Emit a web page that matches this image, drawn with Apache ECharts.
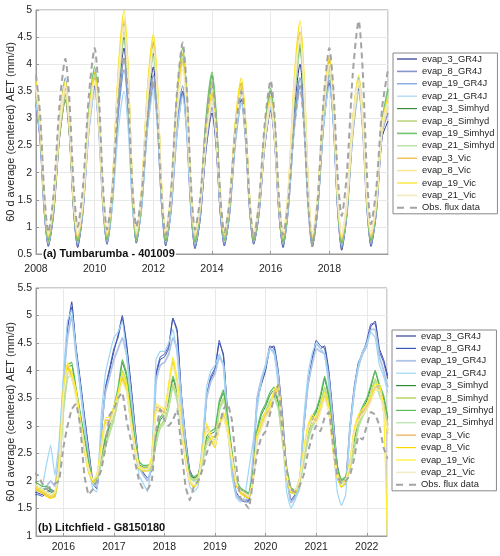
<!DOCTYPE html>
<html><head><meta charset="utf-8">
<script src="https://cdn.jsdelivr.net/npm/echarts@6/dist/echarts.min.js"></script>
<style>html,body{margin:0;padding:0;background:#fff}#c{width:500px;height:556px}</style>
</head><body><div id="c"></div><script>
const seriesNames = ['evap_3_GR4J','evap_8_GR4J','evap_19_GR4J','evap_21_GR4J','evap_3_Simhyd','evap_8_Simhyd','evap_19_Simhyd','evap_21_Simhyd','evap_3_Vic','evap_8_Vic','evap_19_Vic','evap_21_Vic','Obs. flux data'];
const titleTop = '(a) Tumbarumba - 401009';
const titleBottom = '(b) Litchfield - G8150180';
const yName = '60 d average (centered) AET (mm/d)';

// Panel (a): sample times = each year + these offsets (peak ~Jan, trough ~Jun), plus final 2020.0
const topYears = [2008,2009,2010,2011,2012,2013,2014,2015,2016,2017,2018,2019];
const topOffsets = [0,0.14,0.28,0.42,0.6,0.8];
const topEnd = 2020;

const aG3 = [3.25,2.60,1.29,0.64,1.24,2.62, 3.35,2.67,1.30,0.62,1.28,2.80, 3.6,2.87,1.41,0.68,1.48,3.32, 4.3,3.40,1.60,0.70,1.42,3.07, 3.95,3.13,1.48,0.65,1.28,2.73, 3.5,2.78,1.33,0.60,1.15,2.43, 3.1,2.49,1.26,0.65,1.24,2.62, 3.35,2.68,1.35,0.68,1.22,2.48, 3.15,2.52,1.25,0.62,1.36,3.09, 4.0,3.16,1.47,0.63,1.29,2.83, 3.65,2.88,1.34,0.57,1.23,2.75, 3.55,2.82,1.37,0.64,1.25,2.65, 2.95];
const aG8 = [3.3,2.64,1.32,0.66,1.27,2.70, 3.45,2.75,1.36,0.66,1.30,2.77, 3.55,2.84,1.41,0.70,1.45,3.18, 4.1,3.26,1.57,0.72,1.40,2.97, 3.8,3.02,1.46,0.68,1.29,2.70, 3.45,2.75,1.34,0.63,1.20,2.51, 3.2,2.57,1.31,0.68,1.26,2.59, 3.3,2.65,1.35,0.70,1.25,2.53, 3.2,2.57,1.30,0.66,1.34,2.92, 3.75,2.98,1.43,0.66,1.33,2.88, 3.7,2.93,1.39,0.62,1.25,2.72, 3.5,2.79,1.38,0.67,1.29,2.74, 3.1];
const aG19 = [3.4,2.72,1.36,0.68,1.36,2.92, 3.75,2.98,1.44,0.67,1.35,2.92, 3.75,2.99,1.48,0.72,1.42,3.04, 3.9,3.11,1.52,0.72,1.35,2.82, 3.6,2.88,1.43,0.70,1.34,2.82, 3.6,2.86,1.39,0.65,1.26,2.66, 3.4,2.73,1.38,0.70,1.31,2.71, 3.45,2.77,1.40,0.72,1.29,2.60, 3.3,2.65,1.34,0.68,1.32,2.81, 3.6,2.87,1.41,0.68,1.37,2.96, 3.8,3.01,1.43,0.64,1.29,2.80, 3.6,2.88,1.43,0.70,1.34,2.82, 3.3];
const aG21 = [3.3,2.65,1.35,0.70,1.34,2.82, 3.6,2.88,1.43,0.70,1.32,2.74, 3.5,2.81,1.43,0.74,1.35,2.75, 3.5,2.81,1.44,0.75,1.36,2.76, 3.5,2.81,1.42,0.72,1.31,2.68, 3.4,2.72,1.36,0.68,1.26,2.59, 3.3,2.66,1.37,0.72,1.29,2.60, 3.3,2.66,1.38,0.74,1.28,2.54, 3.2,2.58,1.33,0.70,1.32,2.74, 3.5,2.80,1.40,0.70,1.34,2.82, 3.6,2.87,1.40,0.66,1.28,2.73, 3.5,2.81,1.42,0.72,1.33,2.75, 3.2];
const aS3 = [3.5,2.81,1.44,0.75,1.34,2.72, 3.45,2.77,1.42,0.74,1.42,3.01, 3.85,3.08,1.54,0.77,1.59,3.49, 4.5,3.57,1.70,0.76,1.52,3.27, 4.2,3.34,1.61,0.74,1.50,3.27, 4.2,3.33,1.59,0.72,1.40,2.97, 3.8,3.04,1.52,0.76,1.38,2.83, 3.6,2.89,1.46,0.75,1.36,2.76, 3.5,2.81,1.42,0.72,1.51,3.33, 4.3,3.41,1.62,0.73,1.45,3.12, 4.0,3.18,1.53,0.70,1.36,2.89, 3.7,2.96,1.48,0.74,1.39,2.90, 3.5];
const aS8 = [3.45,2.77,1.40,0.72,1.30,2.64, 3.35,2.69,1.38,0.72,1.39,2.93, 3.75,3.00,1.50,0.75,1.60,3.56, 4.6,3.64,1.71,0.74,1.52,3.34, 4.3,3.41,1.62,0.72,1.46,3.19, 4.1,3.25,1.55,0.70,1.36,2.89, 3.7,2.96,1.48,0.74,1.36,2.79, 3.55,2.85,1.44,0.73,1.32,2.68, 3.4,2.73,1.38,0.70,1.51,3.40, 4.4,3.48,1.63,0.71,1.41,3.04, 3.9,3.10,1.49,0.68,1.32,2.81, 3.6,2.88,1.44,0.72,1.35,2.82, 3.4];
const aS19 = [3.6,2.90,1.49,0.78,1.39,2.80, 3.55,2.86,1.47,0.77,1.47,3.09, 3.95,3.16,1.59,0.80,1.67,3.68, 4.75,3.76,1.78,0.79,1.58,3.43, 4.4,3.49,1.68,0.77,1.55,3.35, 4.3,3.41,1.64,0.75,1.43,3.01, 3.85,3.08,1.55,0.78,1.41,2.88, 3.65,2.93,1.50,0.78,1.39,2.80, 3.55,2.85,1.45,0.75,1.54,3.38, 4.35,3.45,1.66,0.76,1.48,3.16, 4.05,3.22,1.56,0.73,1.39,2.93, 3.75,3.01,1.52,0.77,1.43,2.95, 3.55];
const aS21 = [3.5,2.83,1.48,0.80,1.38,2.73, 3.45,2.79,1.46,0.80,1.46,2.99, 3.8,3.06,1.57,0.82,1.62,3.47, 4.45,3.54,1.73,0.82,1.55,3.25, 4.15,3.31,1.64,0.80,1.50,3.14, 4.0,3.20,1.59,0.78,1.40,2.84, 3.6,2.90,1.50,0.80,1.39,2.77, 3.5,2.83,1.48,0.80,1.37,2.70, 3.4,2.75,1.44,0.78,1.53,3.28, 4.2,3.35,1.64,0.78,1.47,3.06, 3.9,3.12,1.55,0.76,1.38,2.83, 3.6,2.90,1.50,0.80,1.42,2.84, 3.45];
const aV3 = [3.6,2.91,1.52,0.82,1.42,2.81, 3.55,2.86,1.49,0.80,1.45,2.95, 3.75,3.02,1.57,0.84,1.71,3.73, 4.8,3.81,1.84,0.85,1.63,3.44, 4.4,3.51,1.72,0.83,1.54,3.18, 4.05,3.24,1.63,0.82,1.40,2.74, 3.45,2.80,1.49,0.84,1.46,2.89, 3.65,2.95,1.54,0.83,1.37,2.63, 3.3,2.68,1.43,0.80,1.64,3.57, 4.6,3.65,1.75,0.80,1.53,3.21, 4.1,3.27,1.61,0.78,1.42,2.91, 3.7,2.98,1.54,0.82,1.43,2.85, 3.3];
const aV8 = [3.55,2.87,1.52,0.84,1.43,2.78, 3.5,2.83,1.50,0.83,1.45,2.89, 3.65,2.95,1.56,0.86,1.74,3.77, 4.85,3.86,1.87,0.87,1.67,3.52, 4.5,3.59,1.76,0.85,1.54,3.15, 4.0,3.21,1.63,0.84,1.40,2.71, 3.4,2.77,1.50,0.86,1.46,2.86, 3.6,2.91,1.54,0.85,1.38,2.60, 3.25,2.64,1.43,0.82,1.63,3.51, 4.5,3.58,1.74,0.82,1.52,3.14, 4.0,3.20,1.60,0.80,1.42,2.84, 3.6,2.91,1.53,0.84,1.43,2.78, 3.2];
const aV19 = [3.7,2.99,1.57,0.86,1.48,2.93, 3.7,2.99,1.56,0.85,1.51,3.04, 3.85,3.11,1.62,0.88,1.79,3.89, 5.0,3.98,1.93,0.90,1.70,3.56, 4.55,3.63,1.80,0.88,1.61,3.30, 4.2,3.37,1.71,0.88,1.46,2.79, 3.5,2.85,1.54,0.88,1.51,2.98, 3.75,3.03,1.59,0.87,1.43,2.72, 3.4,2.76,1.48,0.84,1.71,3.73, 4.8,3.81,1.83,0.84,1.57,3.26, 4.15,3.32,1.65,0.82,1.48,3.00, 3.8,3.06,1.60,0.86,1.48,2.93, 3.4];
const aV21 = [3.6,2.92,1.56,0.88,1.48,2.87, 3.6,2.92,1.55,0.87,1.49,2.94, 3.7,3.00,1.60,0.90,1.74,3.67, 4.7,3.75,1.85,0.90,1.65,3.38, 4.3,3.45,1.74,0.88,1.54,3.08, 3.9,3.15,1.64,0.88,1.41,2.65, 3.3,2.70,1.50,0.90,1.47,2.80, 3.5,2.85,1.54,0.88,1.41,2.65, 3.3,2.69,1.47,0.86,1.66,3.52, 4.5,3.59,1.77,0.86,1.55,3.15, 4.0,3.21,1.63,0.84,1.47,2.93, 3.7,3.00,1.59,0.88,1.48,2.87, 3.3];
const aObs = [3.8,3.08,1.63,0.90,1.60,3.24, 4.1,3.33,1.78,1.00,1.73,3.41, 4.3,3.46,1.79,0.95,1.65,3.29, 4.15,3.36,1.79,1.00,1.59,2.97, 3.7,2.99,1.56,0.85,1.63,3.44, 4.4,3.54,1.81,0.95,1.54,2.92, 3.65,2.96,1.59,0.90,1.47,2.80, 3.5,2.83,1.48,0.80,1.44,2.92, 3.7,2.99,1.56,0.85,1.46,2.86, 3.6,2.86,1.39,0.65,1.45,3.31, 4.3,3.53,1.98,1.20,1.99,3.83, 4.8,3.86,1.99,1.05,1.70,3.20, 3.9];

// Panel (b): monthly values, first of month, Jun 2015 .. Jun 2022
const botStartYear = 2015, botStartMonth = 6, botCount = 85;
const bG3 = [1.8,1.78,1.75,1.8,1.85,1.8,2.3, 3.65,4.75,5.25,4.45,3.85,3.2,2.6,2.0,1.88,2.8,3.65,4.0, 4.35,4.65,5.0,4.5,3.8,3.0,2.3,2.15,2.05,2.2,3.9,4.2, 4.25,4.4,4.95,4.75,3.6,2.8,2.2,2.05,2.1,2.5,3.5,3.85, 4.0,4.5,4.3,3.2,2.3,1.8,1.68,1.65,1.65,2.2,3.45,3.75, 4.0,4.4,4.45,4.0,3.2,2.2,1.65,1.75,1.9,2.9,3.7,4.15, 4.5,4.4,4.45,4.0,3.2,2.3,1.95,2.0,2.9,3.6,4.1,4.35, 4.5,4.8,4.9,4.4,4.2,3.9];
const bG8 = [1.75,1.75,1.72,1.78,1.82,1.78,2.4, 3.75,4.8,5.15,4.4,3.8,3.15,2.55,1.95,1.85,2.9,3.7,4.05, 4.4,4.6,4.95,4.45,3.75,2.95,2.28,2.12,2.0,2.25,3.95,4.25, 4.3,4.45,4.95,4.7,3.55,2.75,2.15,2.0,2.05,2.55,3.55,3.9, 4.05,4.55,4.25,3.15,2.25,1.75,1.65,1.62,1.62,2.3,3.5,3.8, 4.05,4.45,4.4,3.95,3.1,2.1,1.62,1.72,1.88,3.0,3.75,4.2, 4.55,4.45,4.4,3.95,3.1,2.25,1.92,1.98,3.0,3.7,4.15,4.3, 4.55,4.85,4.85,4.35,4.15,3.85];
const bG19 = [1.85,1.82,1.8,1.9,2.0,1.9,2.5, 3.7,4.6,5.0,4.3,3.7,3.05,2.45,1.95,1.9,2.9,3.6,3.9, 4.2,4.4,4.6,4.3,3.6,2.85,2.25,2.1,2.0,2.3,3.8,4.1, 4.15,4.3,4.6,4.4,3.5,2.7,2.1,2.0,2.05,2.6,3.5,3.8, 3.95,4.25,4.1,3.1,2.2,1.75,1.65,1.65,1.7,2.4,3.5,3.85, 4.1,4.4,4.35,3.9,3.05,2.1,1.6,1.7,1.85,2.95,3.7,4.1, 4.4,4.35,4.3,3.85,3.05,2.2,1.9,1.95,2.95,3.6,4.05,4.3, 4.45,4.75,4.75,4.25,4.0,3.7];
const bG21 = [1.8,1.85,1.9,2.3,2.65,2.1,2.7, 3.9,4.9,5.1,4.35,3.7,3.0,2.35,1.85,1.8,3.2,3.95,4.3, 4.6,4.7,4.9,4.3,3.55,2.7,2.1,1.95,1.8,2.4,4.2,4.35, 4.35,4.5,4.75,4.3,3.3,2.5,1.9,1.8,1.9,2.7,3.7,4.0, 4.1,4.3,4.1,3.0,2.1,1.7,1.62,1.7,2.2,2.7,3.3,3.8, 4.1,4.4,4.3,3.7,2.8,1.8,1.5,1.65,1.9,3.1,3.9,4.3, 4.5,4.4,4.3,3.7,2.7,1.8,1.55,1.75,2.9,3.6,4.1,4.35, 4.5,4.7,4.6,4.1,3.9,3.6];
const bS3 = [1.95,1.9,1.85,1.85,1.8,1.75,2.3, 3.4,4.05,4.1,3.65,3.2,2.75,2.3,2.0,2.05,2.4,2.75,3.0, 3.3,3.6,4.15,3.9,3.3,2.7,2.3,2.25,2.25,2.3,2.8,3.1, 3.2,3.45,3.85,3.6,3.0,2.5,2.1,2.05,2.1,2.4,2.75,2.85, 2.9,3.4,3.6,3.1,2.5,2.0,1.85,1.8,1.75,2.1,2.9,3.2, 3.35,3.55,3.65,3.4,2.8,2.2,1.85,1.8,2.0,2.4,2.85,3.1, 3.25,3.5,3.85,3.5,2.8,2.2,2.0,2.05,2.3,2.7,3.1,3.3, 3.45,3.7,4.0,3.7,3.5,3.1];
const bS8 = [1.9,1.85,1.8,1.8,1.75,1.72,2.2, 3.3,3.95,4.0,3.6,3.15,2.7,2.25,1.98,2.02,2.35,2.65,2.9, 3.15,3.5,4.0,3.8,3.2,2.65,2.25,2.2,2.2,2.25,2.7,3.0, 3.1,3.35,3.75,3.5,2.95,2.45,2.08,2.02,2.08,2.35,2.7,2.8, 2.8,3.3,3.5,3.05,2.45,1.98,1.82,1.78,1.72,2.05,2.8,3.1, 3.25,3.45,3.55,3.35,2.75,2.15,1.82,1.78,1.95,2.35,2.75,3.0, 3.15,3.4,3.7,3.4,2.75,2.15,1.98,2.02,2.25,2.6,3.0,3.2, 3.35,3.6,3.85,3.6,3.4,3.0];
const bS19 = [2.0,1.95,1.9,1.9,1.85,1.78,2.35, 3.5,4.1,4.15,3.7,3.25,2.8,2.35,2.02,2.08,2.45,2.8,3.05, 3.35,3.7,4.2,3.95,3.35,2.75,2.35,2.28,2.28,2.35,2.85,3.15, 3.25,3.5,3.9,3.65,3.05,2.55,2.12,2.08,2.12,2.45,2.8,2.9, 2.95,3.45,3.65,3.15,2.55,2.02,1.88,1.82,1.78,2.15,2.95,3.25, 3.4,3.6,3.7,3.45,2.85,2.25,1.88,1.82,2.02,2.45,2.9,3.15, 3.3,3.55,3.9,3.55,2.85,2.25,2.02,2.08,2.35,2.75,3.15,3.35, 3.5,3.75,4.0,3.75,3.55,3.15];
const bS21 = [1.85,1.82,1.78,1.75,1.72,1.7,2.1, 3.2,3.85,3.95,3.55,3.1,2.65,2.2,1.95,2.0,2.3,2.6,2.85, 3.1,3.45,3.9,3.75,3.15,2.6,2.2,2.18,2.18,2.2,2.65,2.95, 3.05,3.3,3.7,3.45,2.9,2.4,2.05,2.0,2.05,2.3,2.65,2.75, 2.75,3.25,3.45,3.0,2.4,1.95,1.8,1.75,1.7,2.0,2.75,3.05, 3.2,3.4,3.5,3.3,2.7,2.1,1.8,1.75,1.92,2.3,2.7,2.95, 3.1,3.35,3.65,3.35,2.7,2.1,1.95,2.0,2.2,2.55,2.95,3.15, 3.3,3.55,3.8,3.55,3.35,2.95];
const bV3 = [1.9,1.85,1.8,1.75,1.7,1.75,2.3, 3.6,4.1,3.9,3.6,3.1,2.6,2.2,2.0,2.1,2.6,3.1,3.1, 3.3,3.55,3.9,3.7,3.1,2.6,2.25,2.2,2.2,2.4,3.35,3.3, 3.25,3.7,4.2,3.8,3.0,2.4,2.0,1.9,2.0,2.5,3.0,2.8, 2.65,3.0,3.2,2.9,2.4,1.95,1.8,1.75,1.7,2.0,2.8,3.0, 3.2,3.3,3.6,3.7,2.9,2.1,1.8,1.8,2.0,2.5,2.95,3.15, 3.1,3.3,3.55,3.3,2.6,2.1,1.9,2.0,2.3,2.9,3.15,3.25, 3.35,3.5,3.7,3.7,3.3,2.9];
const bV8 = [1.88,1.82,1.78,1.72,1.68,1.72,2.25, 3.55,4.05,3.85,3.55,3.05,2.55,2.15,1.98,2.08,2.55,3.05,3.05, 3.25,3.5,3.85,3.65,3.05,2.55,2.22,2.18,2.18,2.35,3.3,3.25, 3.2,3.65,4.15,3.75,2.95,2.35,1.98,1.88,1.98,2.45,2.95,2.75, 2.6,2.95,3.15,2.85,2.35,1.92,1.78,1.72,1.68,1.98,2.75,2.95, 3.15,3.25,3.55,3.65,2.85,2.05,1.78,1.78,1.98,2.45,2.9,3.1, 3.05,3.25,3.5,3.25,2.55,2.05,1.88,1.98,2.25,2.85,3.1,3.2, 3.3,3.45,3.65,3.65,3.25,2.85];
const bV19 = [1.92,1.87,1.82,1.78,1.72,1.78,2.35, 3.65,4.15,3.95,3.65,3.15,2.65,2.25,2.02,2.12,2.65,3.15,3.15, 3.35,3.6,3.95,3.75,3.15,2.65,2.28,2.22,2.22,2.45,3.4,3.35, 3.3,3.75,4.25,3.85,3.05,2.45,2.02,1.92,2.02,2.55,3.05,2.85, 2.7,3.05,3.25,2.95,2.45,1.98,1.82,1.78,1.72,2.02,2.85,3.05, 3.25,3.35,3.65,3.75,2.95,2.15,1.82,1.82,2.02,2.55,3.0,3.2, 3.15,3.35,3.6,3.35,2.65,2.15,1.92,2.02,2.35,2.95,3.2,3.3, 3.4,3.55,3.75,3.75,3.35,0.7];
const bV21 = [1.95,1.9,1.85,1.8,1.75,1.8,2.2, 3.5,4.0,3.85,3.5,3.05,2.6,2.2,2.02,2.1,2.5,3.0,3.05, 3.25,3.5,3.8,3.6,3.05,2.6,2.25,2.2,2.2,2.35,3.25,3.25, 3.2,3.6,4.1,3.7,2.95,2.4,2.0,1.92,2.0,2.45,2.95,2.8, 2.65,2.95,3.15,2.85,2.4,1.98,1.82,1.78,1.72,2.0,2.75,2.95, 3.15,3.25,3.55,3.6,2.85,2.1,1.82,1.82,2.0,2.45,2.9,3.1, 3.05,3.25,3.5,3.25,2.6,2.1,1.92,2.0,2.3,2.85,3.1,3.2, 3.3,3.45,3.65,3.65,3.25,2.9];
const bObs = [2.15,2.1,1.95,1.85,1.9,1.95,2.0, 2.6,3.0,3.3,3.4,3.0,2.1,1.75,1.85,2.0,2.2,2.6,3.2, 3.3,3.5,3.6,3.1,2.75,2.35,2.0,1.85,1.85,2.0,2.9,3.3, 3.1,3.0,3.1,3.3,2.6,1.9,1.65,1.9,2.0,2.2,2.5,2.7, 2.8,3.0,3.3,3.4,3.1,2.3,1.7,1.6,1.5,2.0,2.5,2.8, 2.9,3.2,3.5,3.75,2.9,2.2,1.85,1.8,1.9,2.1,2.5,2.8, 3.0,2.9,3.15,3.25,2.7,2.1,1.95,2.0,2.1,2.4,2.8,2.75, 3.0,3.25,3.2,3.0,2.6,2.4];

const topValues = [aG3,aG8,aG19,aG21,aS3,aS8,aS19,aS21,aV3,aV8,aV19,aV21,aObs];
const botValues = [bG3,bG8,bG19,bG21,bS3,bS8,bS19,bS21,bV3,bV8,bV19,bV21,bObs];

// styles
const topColors = ['#26358c','#8795cf','#6e98de','#a6d5f5','#3a8a45','#a9c65a','#72c46a','#a9dc9b','#efb43a','#fde38c','#f9e21c','#f4ebc6','#a3a3a3'];
const topWidths = [1,1.6,1.2,1.2,1,1.2,1.6,1.2,1.2,1.4,1.2,1.8,2];
const botColors = ['#34449a','#3e55b8','#aec5e8','#9ed6f6','#2c8a3c','#c2dd7f','#5bbd5a','#b4e2a6','#ecc585','#fbd700','#fff028','#f1ebc0','#a3a3a3'];
const botWidths = [1,1,1.8,1.2,1,1.8,1.2,1.2,1.8,1.2,1.2,1.4,2];

const topTimes = [];
topYears.forEach(y => topOffsets.forEach(o => topTimes.push(y + o)));
topTimes.push(topEnd);
const botTimes = [];
for (let i = 0; i < botCount; i++) botTimes.push(botStartYear + (botStartMonth - 1 + i) / 12);

const axisColor = '#9a9a9a', textColor = '#262626', gridColor = '#e8e8e8';
const FONT = 'Liberation Sans, Arial, sans-serif';

function mkSeries(names, values, times, colors, widths, idx, smooth) {
  return names.map((n, k) => ({
    name: n, type: 'line', xAxisIndex: idx, yAxisIndex: idx,
    data: times.map((t, i) => [t, values[k][i]]),
    showSymbol: false, symbol: 'none', smooth: smooth, clip: true,
    lineStyle: { color: colors[k], width: widths[k], type: k === 12 ? [6, 4] : 'solid' },
    itemStyle: { color: colors[k] },
    emphasis: { disabled: true }, z: 2
  }));
}
function mkLegend(colors, widths, left, top) {
  return {
    orient: 'vertical', left: left, top: top, itemWidth: 20, itemHeight: 10, itemGap: 2.4,
    padding: [1, 3, 1, 3], borderColor: '#888', borderWidth: 1, backgroundColor: '#fff',
    textStyle: { fontSize: 9.4, color: textColor, fontFamily: FONT, lineHeight: 10 },
    data: seriesNames.map((n, k) => ({ name: n,
      lineStyle: { color: colors[k], width: Math.max(widths[k], 1.2), type: k === 12 ? [7, 6] : 'solid', opacity: 1 },
      itemStyle: { color: colors[k], opacity: 0 } }))
  };
}
function yAx(idx, min, max) {
  return { gridIndex: idx, type: 'value', min: min, max: max, interval: 0.5,
    name: yName, nameLocation: 'middle', nameGap: 20, nameMoveOverlap: false,
    nameTextStyle: { fontSize: 11, color: textColor, fontFamily: FONT },
    axisLine: { show: true, lineStyle: { color: axisColor } },
    axisTick: { show: true, inside: true, length: 3, lineStyle: { color: axisColor } },
    axisLabel: { fontSize: 10.5, color: textColor, fontFamily: FONT, margin: 4 },
    splitLine: { show: true, lineStyle: { color: gridColor } } };
}

const chart = echarts.init(document.getElementById('c'), null, { renderer: 'canvas' });
chart.setOption({
  animation: false, backgroundColor: '#fff',
  grid: [
    { left: 36, right: 112, top: 10, height: 244, show: true, borderColor: axisColor, borderWidth: 1, outerBoundsMode: 'none', containLabel: false },
    { left: 36, right: 113, top: 288, height: 248, show: true, borderColor: axisColor, borderWidth: 1, outerBoundsMode: 'none', containLabel: false }
  ],
  title: [
    { text: titleTop, left: 42, top: 248, padding: [0, 1], backgroundColor: '#fff',
      textStyle: { fontSize: 11, fontWeight: 'bold', color: '#111', fontFamily: FONT } },
    { text: titleBottom, left: 37, top: 522, padding: [0, 1],
      textStyle: { fontSize: 11, fontWeight: 'bold', color: '#111', fontFamily: FONT } }
  ],
  legend: [ mkLegend(topColors, topWidths, 393, 53), mkLegend(botColors, botWidths, 392, 330) ],
  xAxis: [
    { gridIndex: 0, type: 'value', min: 2008, max: 2020, interval: 2,
      axisLine: { show: true, lineStyle: { color: axisColor } },
      axisTick: { show: true, inside: true, length: 3, lineStyle: { color: axisColor } },
      axisLabel: { fontSize: 10.5, color: textColor, fontFamily: FONT, margin: 10, showMaxLabel: false,
        formatter: v => String(v) },
      splitLine: { show: true, lineStyle: { color: gridColor } } },
    { gridIndex: 1, type: 'value', min: 2015.46, max: 2022.4, splitNumber: 7,
      axisLine: { show: true, lineStyle: { color: axisColor } },
      axisTick: { show: true, inside: true, length: 3, lineStyle: { color: axisColor } },
      axisLabel: { fontSize: 10.5, color: textColor, fontFamily: FONT, margin: 6,
        formatter: v => (Math.abs(v - Math.round(v)) < 1e-6 ? String(Math.round(v)) : '') },
      splitLine: { show: true, lineStyle: { color: gridColor } } }
  ],
  yAxis: [ yAx(0, 0.5, 5), yAx(1, 1, 5.5) ],
  series: mkSeries(seriesNames, topValues, topTimes, topColors, topWidths, 0, 0.25)
    .concat(mkSeries(seriesNames, botValues, botTimes, botColors, botWidths, 1, 0.1))
});
</script></body></html>
